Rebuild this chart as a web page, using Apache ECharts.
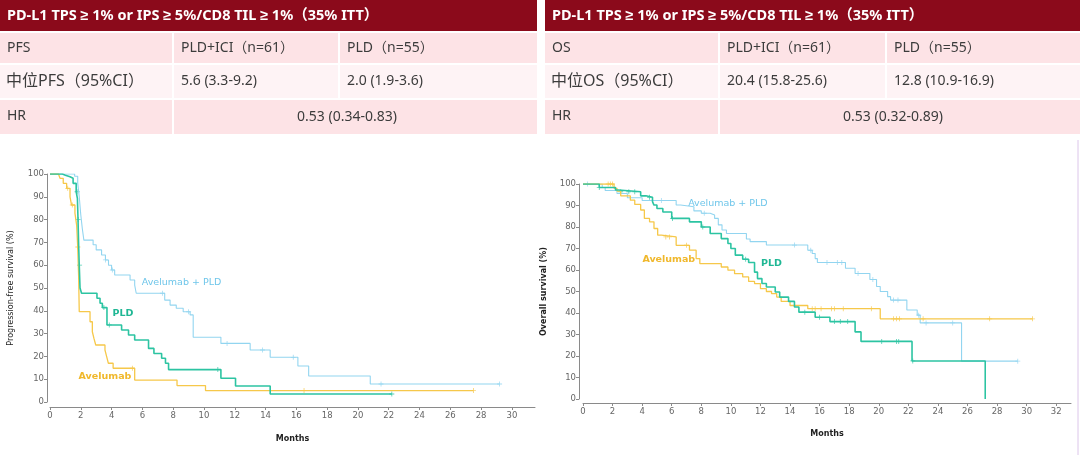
<!DOCTYPE html>
<html><head><meta charset="utf-8">
<script src="https://cdn.jsdelivr.net/npm/echarts@6/dist/echarts.min.js"></script>
<style>html,body{margin:0;padding:0;background:#fff}#c{width:1080px;height:455px}</style>
</head><body><div id="c"></div>
<script>
// ---------- table texts ----------
const headerTitle = 'PD-L1 TPS ≥ 1% or IPS ≥ 5%/CD8 TIL ≥ 1%（35% ITT）';
const pfsRow1 = ['PFS', 'PLD+ICI（n=61）', 'PLD（n=55）'];
const pfsRow2 = ['中位PFS（95%CI）', '5.6 (3.3-9.2)', '2.0 (1.9-3.6)'];
const pfsRow3 = ['HR', '0.53 (0.34-0.83)'];
const osRow1 = ['OS', 'PLD+ICI（n=61）', 'PLD（n=55）'];
const osRow2 = ['中位OS（95%CI）', '20.4 (15.8-25.6)', '12.8 (10.9-16.9)'];
const osRow3 = ['HR', '0.53 (0.32-0.89)'];

// ---------- chart texts ----------
const curveNames = ['Avelumab + PLD', 'PLD', 'Avelumab'];
const pfsYName = 'Progression-free survival (%)';
const osYName = 'Overall survival (%)';
const xName = 'Months';

// ---------- PFS curves [month, %] ----------
const pfsAvePld = [[0,100],[1.6,99],[1.8,96],[1.9,90],[2.0,82],[2.1,76],[2.2,71],[2.8,69],[3.0,66.7],[3.35,64.5],[3.6,62.3],[3.8,60],[4.0,57.9],[4.2,55.7],[5.2,53.5],[5.5,51.3],[5.6,47.7],[7.45,44.7],[7.8,42.5],[8.2,41.1],[8.65,39.6],[9.1,38.2],[9.3,28.4],[11.1,25.7],[13.0,22.8],[14.3,19.6],[16.1,15.8],[16.8,11.4],[20.8,7.9],[29.2,7.9]];
const pfsPld = [[0,100],[0.8,99.5],[1.0,98.8],[1.3,98.1],[1.5,95.9],[1.7,92.2],[1.78,89.3],[1.82,80],[1.86,69],[1.9,60],[1.95,50],[2.05,47.7],[3.05,45.5],[3.25,43.3],[3.4,41.4],[3.7,33.8],[4.65,31.6],[5.1,29.4],[5.5,27.2],[6.4,23.5],[6.75,21.3],[7.25,19.2],[7.5,17],[7.7,14.2],[11.1,10.4],[12.05,7.0],[14.3,3.5],[22.2,3.5]];
const pfsAve = [[0,100],[0.55,99.5],[0.65,98.1],[0.86,95.9],[1.08,93.7],[1.3,90],[1.4,86.4],[1.62,82.8],[1.73,77.6],[1.8,68],[1.86,55],[1.9,39.6],[2.6,35.2],[2.75,30.8],[2.85,28],[2.97,25],[3.57,22.8],[3.68,19.9],[3.79,17],[4.1,14.8],[5.5,9.6],[8.25,7.2],[10.1,5.0],[27.5,5.0]];
const pfsAvePldCens = [3.6, 4.05, 7.3, 9.0, 11.5, 13.8, 15.8, 21.5, 29.2];
const pfsPldCens = [1.76, 1.83, 1.92, 3.5, 3.85, 10.9, 22.2];
const pfsAveCens = [1.15, 1.45, 1.81, 5.35, 16.5, 27.5];

// ---------- OS curves [month, %] ----------
const osAvePld = [[0,100],[1.3,98.4],[1.5,97],[2.3,95.6],[3.0,93.6],[4.0,92.3],[6.3,90.2],[6.6,89.4],[7.5,87.5],[8.0,86.4],[8.6,85.6],[8.9,84],[9.15,81],[9.4,78.6],[9.7,77],[11.05,74.4],[11.3,73.2],[12.4,71.6],[15.2,69.2],[15.5,67.7],[15.7,65.3],[15.85,63.5],[17.75,60.8],[18.4,58.4],[19.4,55.6],[19.85,52.3],[20.1,50],[20.6,47.6],[20.8,46],[21.9,41.4],[22.6,39],[22.8,35.4],[25.6,17.6],[29.4,17.6]];
const osPld = [[0,100],[1.1,98.4],[2.2,97.2],[2.4,96.4],[3.9,94.5],[4.25,93.8],[4.7,91.8],[4.8,90.2],[5.0,88.6],[5.4,87],[6.0,84],[7.2,82.4],[8.0,80],[8.6,77],[9.35,74.6],[9.8,72.3],[10.0,70],[10.3,66.9],[10.8,65],[11.2,63.5],[11.6,59],[11.8,56],[12.1,53.7],[12.4,52.1],[13.0,49.8],[13.3,47.4],[13.9,45.4],[14.3,42.8],[14.6,40.4],[15.7,38],[16.7,36],[18.4,31.2],[18.8,26.8],[22.25,17.7],[27.2,0]];
const osAve = [[0,100],[2.1,98],[2.3,96.7],[2.55,94.5],[3.2,92.5],[3.5,90.5],[3.9,87.9],[4.15,84],[4.5,82.4],[4.8,79.3],[5.05,76.2],[5.3,75.4],[6.3,71.5],[7.2,69.2],[7.65,65.3],[7.9,63],[9.35,61.4],[9.8,59.9],[10.25,58.3],[10.8,56.8],[11.2,54.7],[11.6,53.7],[12.0,51.3],[12.4,50],[12.75,49],[13.1,47.4],[13.4,45.4],[14.0,43.5],[15.2,42],[20.1,37.3],[30.4,37.3]];
const osAvePldCens = [0.3, 5.3, 8.2, 14.3, 15.4, 16.5, 17.2, 17.5, 18.6, 19.6, 21.0, 21.3, 22.7, 23.2, 25.0, 29.4];
const osPldCens = [1.1, 2.55, 3.1, 3.5, 4.5, 6.05, 8.1, 11.0, 15.0, 16.0, 17.0, 17.4, 17.9, 20.2, 21.2, 21.35, 22.3];
const osAveCens = [1.7, 1.85, 2.0, 5.6, 5.85, 7.0, 15.5, 15.7, 16.1, 16.8, 17.0, 17.6, 19.5, 21.0, 21.2, 21.4, 23.0, 27.5, 30.4];

// annotation anchors in data space [month, %]
const pfsLabelAt = [[8.54,52.6],[4.74,38.6],[3.57,11]];
const osLabelAt = [[9.8,90.7],[12.74,62.8],[5.8,65.1]];

// ---------- styles ----------
const colBlue = '#92d5f0', colTeal = '#2cc4a2', colYellow = '#f6c84a';
const txtBlue = '#6fc6ea', txtTeal = '#1fb794', txtYellow = '#f0b82c';
const tableFont = '"Noto Sans", "Liberation Sans", "Noto Sans CJK SC", sans-serif';
const chartFont = '"DejaVu Sans", sans-serif';

function stepVal(curve, t) {
  let v = curve[0][1];
  for (const p of curve) { if (p[0] <= t) v = p[1]; else break; }
  return v;
}

// ---------- table graphics ----------
function tableEls(x0, x1, c2, c3, r1, r2, r3, hrCenter) {
  const els = [];
  const rect = (x, y, w, h, fill) => els.push({type:'rect', shape:{x, y, width:w, height:h}, style:{fill}, silent:true});
  const text = (x, y, s, size) => els.push({type:'text', x, y, silent:true,
      style:{text:s, fill:'#3c3c3c', font: size + 'px ' + tableFont, textAlign:'left', textVerticalAlign:'middle'}});
  rect(x0, 0, x1 - x0, 31, '#8b0a1b');
  els.push({type:'text', x:x0 + 7, y:16, silent:true, style:{text:headerTitle, fill:'#ffffff', font:'bold 14.5px ' + tableFont, textAlign:'left', textVerticalAlign:'middle'}});
  const rows = [[33, 30, '#fde3e6'], [65, 33, '#fef3f5']];
  for (let i = 0; i < 2; i++) {
    const [y, h, f] = rows[i];
    rect(x0, y, c2 - 2 - x0, h, f);
    rect(c2, y, c3 - 2 - c2, h, f);
    rect(c3, y, x1 - c3, h, f);
  }
  rect(x0, 100, c2 - 2 - x0, 34, '#fde3e6');
  rect(c2, 100, x1 - c2, 34, '#fde3e6');
  text(x0 + 7, 48, r1[0], 14);
  text(c2 + 7, 48, r1[1], 14);
  text(c3 + 7, 48, r1[2], 14);
  text(x0 + 6, 81, r2[0], 16);
  text(c2 + 7, 81, r2[1], 14);
  text(c3 + 7, 81, r2[2], 14);
  text(x0 + 7, 116, r3[0], 14);
  els.push({type:'text', x:hrCenter, y:117, silent:true, style:{text:r3[1], fill:'#3c3c3c', font:'14px ' + tableFont, textAlign:'center', textVerticalAlign:'middle'}});
  return els;
}

const graphics = [].concat(
  tableEls(0, 537, 174, 340, pfsRow1, pfsRow2, pfsRow3, 347),
  tableEls(545, 1080, 720, 887, osRow1, osRow2, osRow3, 893),
  [{type:'line', shape:{x1:1078, y1:140, x2:1078, y2:455}, style:{stroke:'#dcc6ea', lineWidth:1}, silent:true}]
);

// ---------- axes ----------
function xAx(gi, max, offset, gap) {
  return {type:'value', gridIndex:gi, min:0, max:max, interval:2, offset:offset,
    name:xName, nameLocation:'middle', nameGap:gap,
    nameTextStyle:{fontFamily:chartFont, fontSize:8, fontWeight:'bold', color:'#222'},
    axisLine:{onZero:false, lineStyle:{color:'#8a8a8a', width:1}},
    axisTick:{inside:false, length:3, lineStyle:{color:'#8a8a8a'}},
    axisLabel:{showMaxLabel:false, fontFamily:chartFont, fontSize:8.5, color:'#666', margin:4},
    splitLine:{show:false}};
}
function yAx(gi, name, offset, gap, weight) {
  return {type:'value', gridIndex:gi, min:0, max:100, interval:10, offset:offset,
    name:name, nameLocation:'middle', nameGap:gap, nameRotate:90,
    nameTextStyle:{fontFamily:chartFont, fontSize:8, fontWeight:weight, color:'#222'},
    axisLine:{show:true, onZero:false, lineStyle:{color:'#8a8a8a', width:1}},
    axisTick:{show:true, length:3, lineStyle:{color:'#8a8a8a'}},
    axisLabel:{fontFamily:chartFont, fontSize:8.5, color:'#666', margin:3},
    splitLine:{show:false}};
}

const censorSymbol = 'path://M4,0h1.6v4h4v1.6h-4v4h-1.6v-4h-4v-1.6h4z';

function kmSeries(gi, curves, cens, labelAt) {
  const cols = [colBlue, colYellow, colTeal];
  const tcols = [txtBlue, txtYellow, txtTeal];
  const idx = [0, 2, 1]; // draw order: blue, yellow, teal
  const widths = [1.1, 1.3, 1.6];
  const out = [];
  idx.forEach((k, j) => {
    const bold = k !== 0;
    out.push({type:'line', name:curveNames[k], xAxisIndex:gi, yAxisIndex:gi, step:'end',
      data:curves[k], showSymbol:false, symbol:'none', animation:false,
      lineStyle:{color:cols[j], width:widths[j]},
      markPoint:{symbol:'circle', symbolSize:0, silent:true, animation:false,
        label:{show:true, position:'inside', formatter:curveNames[k], color:tcols[j],
          fontFamily:chartFont, fontSize:9.5, fontWeight: bold ? 'bold' : 'normal'},
        data:[{coord:labelAt[k]}]}
    });
    out.push({type:'scatter', xAxisIndex:gi, yAxisIndex:gi, animation:false, silent:true,
      symbol:censorSymbol, symbolSize:5, itemStyle:{color:cols[j]},
      data:cens[k].map(t => [t, stepVal(curves[k], t)])});
  });
  return out;
}

const chart = echarts.init(document.getElementById('c'), null, {renderer:'canvas'});
chart.setOption({
  backgroundColor:'#ffffff',
  animation:false,
  graphic:graphics,
  grid:[
    {left:50, top:174, width:485, height:228},
    {left:583, top:184, width:488, height:215}
  ],
  xAxis:[xAx(0, 31.5, 5, 28), xAx(1, 33, 4, 27)],
  yAxis:[yAx(0, pfsYName, 3, 32, 'normal'), yAx(1, osYName, 4, 31, 'bold')],
  series:[].concat(
    kmSeries(0, [pfsAvePld, pfsPld, pfsAve], [pfsAvePldCens, pfsPldCens, pfsAveCens], pfsLabelAt),
    kmSeries(1, [osAvePld, osPld, osAve], [osAvePldCens, osPldCens, osAveCens], osLabelAt)
  )
});
</script></body></html>
